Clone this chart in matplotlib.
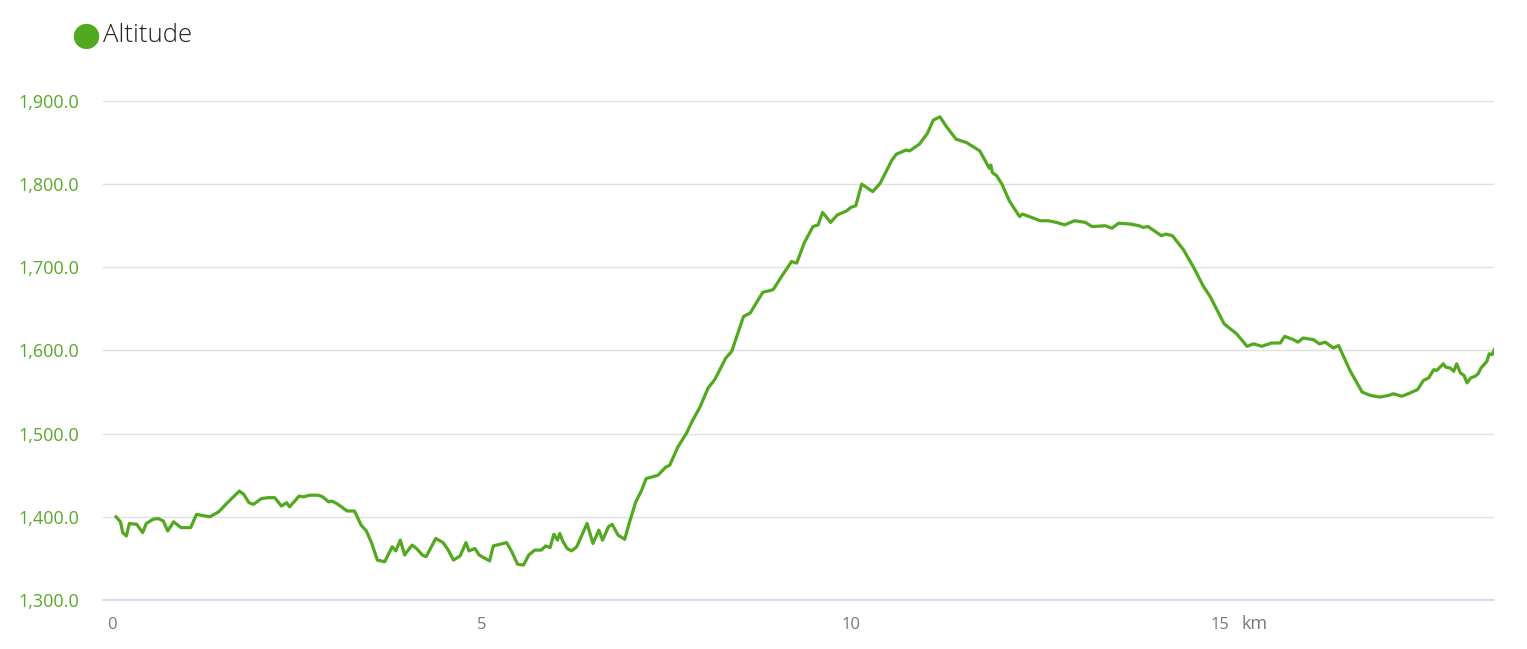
import matplotlib.pyplot as plt
from matplotlib.ticker import FuncFormatter

# distance (km) and altitude (m)
distance_km = [
    0.05, 0.11, 0.14, 0.19, 0.23, 0.33, 0.41, 0.46, 0.55, 0.62, 0.69, 0.75, 0.83, 0.93,
    1.06, 1.14, 1.32, 1.44, 1.57, 1.72, 1.78, 1.85, 1.91, 2.02, 2.11, 2.20, 2.29, 2.36,
    2.40, 2.53, 2.59, 2.67, 2.79, 2.85, 2.93, 2.97, 3.04, 3.12, 3.18, 3.28, 3.37, 3.44,
    3.51, 3.59, 3.69, 3.79, 3.84, 3.90, 3.96, 3.99, 4.06, 4.12, 4.20, 4.25, 4.38, 4.48,
    4.55, 4.62, 4.71, 4.79, 4.83, 4.91, 4.97, 5.11, 5.16, 5.34, 5.41, 5.49, 5.57, 5.64,
    5.72, 5.81, 5.87, 5.93, 5.98, 6.03, 6.06, 6.10, 6.16, 6.22, 6.29, 6.36, 6.43, 6.51,
    6.59, 6.64, 6.72, 6.77, 6.85, 6.94, 7.00, 7.09, 7.17, 7.23, 7.39, 7.50, 7.55, 7.66,
    7.78, 7.86, 7.96, 8.07, 8.16, 8.31, 8.39, 8.55, 8.64, 8.81, 8.95, 9.08, 9.20, 9.27,
    9.37, 9.49, 9.56, 9.62, 9.73, 9.82, 9.95, 10.00, 10.07, 10.15, 10.30, 10.40, 10.48,
    10.56, 10.62, 10.75, 10.80, 10.93, 11.04, 11.12, 11.21, 11.30, 11.43, 11.57, 11.66,
    11.75, 11.88, 11.90, 11.92, 11.98, 12.05, 12.15, 12.23, 12.29, 12.33, 12.45, 12.57,
    12.68, 12.79, 12.90, 13.03, 13.18, 13.27, 13.45, 13.54, 13.63, 13.79, 13.91, 13.96,
    14.03, 14.21, 14.27, 14.36, 14.51, 14.64, 14.78, 14.87, 15.06, 15.23, 15.37, 15.46,
    15.57, 15.70, 15.82, 15.88, 16.00, 16.06, 16.13, 16.27, 16.35, 16.43, 16.54, 16.61,
    16.77, 16.93, 17.04, 17.17, 17.29, 17.35, 17.47, 17.58, 17.68, 17.76, 17.83, 17.90,
    17.94, 18.03, 18.06, 18.12, 18.17, 18.21, 18.26, 18.31, 18.35, 18.40, 18.46, 18.50,
    18.54, 18.62, 18.65, 18.69, 18.72,
]
altitude_m = [
    1400, 1394, 1381, 1377, 1392, 1391, 1381, 1392, 1397, 1398, 1395, 1383, 1394, 1387,
    1387, 1403, 1400, 1406, 1418, 1431, 1427, 1417, 1415, 1422, 1423, 1423, 1413, 1417,
    1412, 1425, 1424, 1426, 1426, 1424, 1418, 1419, 1416, 1411, 1407, 1407, 1390, 1383,
    1369, 1348, 1346, 1364, 1359, 1372, 1354, 1358, 1366, 1362, 1354, 1352, 1374, 1369,
    1360, 1348, 1353, 1369, 1359, 1362, 1354, 1347, 1365, 1369, 1358, 1343, 1342, 1354,
    1360, 1360, 1365, 1363, 1379, 1372, 1380, 1371, 1362, 1359, 1364, 1378, 1392, 1368,
    1384, 1372, 1388, 1391, 1378, 1373, 1392, 1418, 1432, 1446, 1450, 1460, 1462, 1484,
    1501, 1516, 1532, 1555, 1565, 1591, 1599, 1641, 1645, 1670, 1673, 1691, 1707, 1705,
    1729, 1749, 1751, 1766, 1754, 1763, 1768, 1772, 1774, 1800, 1791, 1801, 1815,
    1829, 1836, 1841, 1840, 1848, 1861, 1877, 1881, 1869, 1854, 1850, 1845,
    1840, 1819, 1823, 1814, 1810, 1800, 1780, 1769, 1761, 1764, 1760, 1756,
    1756, 1754, 1751, 1756, 1754, 1749, 1750, 1747, 1753, 1752, 1750, 1748,
    1749, 1738, 1740, 1738, 1721, 1701, 1677, 1665, 1632, 1620, 1605, 1608,
    1605, 1609, 1609, 1617, 1613, 1610, 1615, 1613, 1608, 1610, 1603, 1606,
    1575, 1550, 1546, 1544, 1546, 1548, 1545, 1549, 1553, 1564, 1567, 1577,
    1576, 1584, 1580, 1579, 1575, 1584, 1573, 1570, 1561, 1567, 1569, 1572,
    1579, 1587, 1596, 1595, 1601,
]
y_ticks = [1300, 1400, 1500, 1600, 1700, 1800, 1900]
x_ticks = [0, 5, 10, 15]

green = '#52a81e'
plt.rcParams['font.family'] = ['Open Sans', 'DejaVu Sans']

fig = plt.figure(figsize=(15.27, 6.49), dpi=100)
ax = fig.add_axes([0.0673, 0.0755, 0.9113, 0.7689])

ax.plot(distance_km, altitude_m, color=green, linewidth=2.3, solid_joinstyle='round')

ax.set_xlim(-0.13, 18.72)
ax.set_ylim(1300, 1900)
ax.set_yticks(y_ticks)
ax.set_xticks(x_ticks)
ax.yaxis.set_major_formatter(FuncFormatter(lambda v, p: f'{v:,.1f}'))
ax.grid(axis='y', color='#e0e0e0', linewidth=1.0)
ax.set_axisbelow(True)
for s in ['top', 'right', 'left']:
    ax.spines[s].set_visible(False)
ax.spines['bottom'].set_color('#ccd6eb')
ax.spines['bottom'].set_linewidth(1.2)
ax.tick_params(axis='y', length=0, pad=17, labelsize=13, labelcolor='#5aa82a')
ax.tick_params(axis='x', length=0, pad=12, labelsize=12, labelcolor='#777777')

ax.text(15.3, -0.03, 'km', transform=ax.get_xaxis_transform(), ha='left', va='top',
        fontsize=13, color='#777777')

# legend
fig.text(86 / 1527, 1 - 35 / 649, '●', fontsize=24, color=green, ha='center', va='center',
         family='DejaVu Sans')
fig.text(103 / 1527, 1 - 35 / 649, 'Altitude', fontsize=18.5, color='#222222', ha='left',
         va='center', fontweight='light')

fig.savefig('out.png', dpi=100, facecolor='white')
